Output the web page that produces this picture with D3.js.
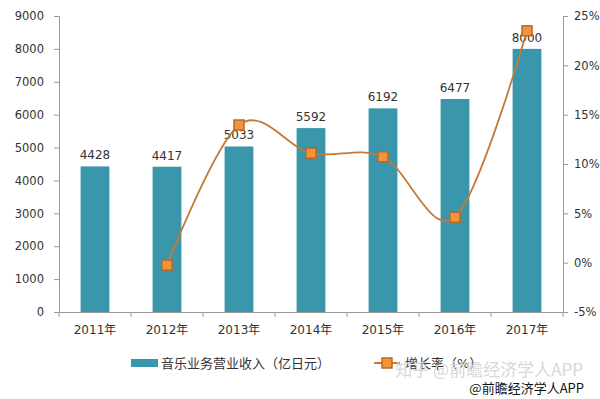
<!DOCTYPE html>
<html>
<head>
<meta charset="utf-8">
<script src="https://cdn.jsdelivr.net/npm/d3@7"></script>
<style>
  body { margin: 0; background: #fff; }
  svg { display: block; font-family: "DejaVu Sans", "Noto Sans CJK SC", sans-serif; }
</style>
</head>
<body>
<div id="chart"></div>
<script>
"use strict";

// data
let years = ["2011年", "2012年", "2013年", "2014年", "2015年", "2016年", "2017年"];
let revenue = [4428, 4417, 5033, 5592, 6192, 6477, 8000];
let growth = [null, -0.25, 13.95, 11.1, 10.73, 4.6, 23.5];
let leftTicks = [0, 1000, 2000, 3000, 4000, 5000, 6000, 7000, 8000, 9000];
let rightTicks = [-5, 0, 5, 10, 15, 20, 25];

let svgWidth = 600;
let svgHeight = 399;

let svg = d3.select("#chart")
    .append("svg")
    .attr("width", svgWidth)
    .attr("height", svgHeight);

let plotLeft = 59, plotRight = 563, plotTop = 16, plotBottom = 312;

// scales
let xScale = d3.scaleBand()
    .domain(years)
    .range([plotLeft, plotRight])
    .paddingInner(0.6)
    .paddingOuter(0.3);

let yLeft = d3.scaleLinear().domain([0, 9000]).range([plotBottom, plotTop]);
let yRight = d3.scaleLinear().domain([-5, 25]).range([plotBottom, plotTop]);

// bars
svg.selectAll(".bar")
    .data(years)
    .enter()
    .append("rect")
    .attr("x", d => xScale(d))
    .attr("y", (d, i) => yLeft(revenue[i]))
    .attr("width", xScale.bandwidth())
    .attr("height", (d, i) => plotBottom - yLeft(revenue[i]))
    .attr("fill", "#3a96ab");

// bar labels
svg.selectAll(".lbl")
    .data(years)
    .enter()
    .append("text")
    .attr("x", d => xScale(d) + xScale.bandwidth() / 2)
    .attr("y", (d, i) => yLeft(revenue[i]) - 7)
    .attr("text-anchor", "middle")
    .attr("font-size", "12px")
    .attr("fill", "#333")
    .text((d, i) => revenue[i]);

// axes
let axisColor = "#999";

let gLeft = svg.append("g")
    .attr("transform", "translate(" + plotLeft + ",0)")
    .call(d3.axisLeft(yLeft).tickValues(leftTicks).tickSize(5).tickPadding(10)
        .tickFormat(d3.format("d")));

let gRight = svg.append("g")
    .attr("transform", "translate(" + plotRight + ",0)")
    .call(d3.axisRight(yRight).tickValues(rightTicks).tickSize(5).tickPadding(6)
        .tickFormat(d => d + "%"));

let gBottom = svg.append("g")
    .attr("transform", "translate(0," + plotBottom + ")")
    .call(d3.axisBottom(xScale).tickSize(0).tickPadding(13));

// category boundary ticks on the x axis
let step = xScale.step();
let bounds = d3.range(years.length + 1).map(i => plotLeft + i * step);
svg.selectAll(".xtick")
    .data(bounds)
    .enter()
    .append("line")
    .attr("x1", d => d)
    .attr("x2", d => d)
    .attr("y1", plotBottom)
    .attr("y2", plotBottom + 5)
    .attr("stroke", axisColor);

[gLeft, gRight, gBottom].forEach(function (g) {
    g.select(".domain").attr("stroke", axisColor);
    g.selectAll(".tick line").attr("stroke", axisColor);
    g.selectAll("text")
        .attr("font-size", "11.5px")
        .attr("fill", "#333")
        .attr("font-family", "DejaVu Sans, Noto Sans CJK SC, sans-serif");
});
gBottom.selectAll("text").attr("font-size", "12px");

// growth line
let linePoints = years.map((d, i) => ({ x: xScale(d) + xScale.bandwidth() / 2, v: growth[i] }))
    .filter(p => p.v !== null);

let line = d3.line()
    .x(p => p.x)
    .y(p => yRight(p.v))
    .curve(d3.curveCatmullRom.alpha(0));

svg.append("path")
    .datum(linePoints)
    .attr("d", line)
    .attr("fill", "none")
    .attr("stroke", "#c27a34")
    .attr("stroke-width", 1.8);

svg.selectAll(".pt")
    .data(linePoints)
    .enter()
    .append("rect")
    .attr("x", p => p.x - 5)
    .attr("y", p => yRight(p.v) - 5)
    .attr("width", 10)
    .attr("height", 10)
    .attr("fill", "#f4943a")
    .attr("stroke", "#b8692a")
    .attr("stroke-width", 1.5);

// legend
let legendY = 363;

svg.append("rect")
    .attr("x", 131)
    .attr("y", legendY - 4)
    .attr("width", 27)
    .attr("height", 8)
    .attr("fill", "#3a96ab");

svg.append("text")
    .attr("x", 161)
    .attr("y", legendY + 5)
    .attr("font-size", "13px")
    .attr("fill", "#333")
    .text("音乐业务营业收入（亿日元）");

svg.append("line")
    .attr("x1", 374)
    .attr("x2", 400)
    .attr("y1", legendY)
    .attr("y2", legendY)
    .attr("stroke", "#c27a34")
    .attr("stroke-width", 2);

svg.append("rect")
    .attr("x", 382)
    .attr("y", legendY - 5)
    .attr("width", 10)
    .attr("height", 10)
    .attr("fill", "#f4943a")
    .attr("stroke", "#b8692a")
    .attr("stroke-width", 1.5);

svg.append("text")
    .attr("x", 405)
    .attr("y", legendY + 5)
    .attr("font-size", "13px")
    .attr("fill", "#333")
    .text("增长率（%）");

// source watermark
svg.append("text")
    .attr("x", 583)
    .attr("y", 376)
    .attr("text-anchor", "end")
    .attr("font-size", "17px")
    .attr("font-family", "Noto Sans CJK SC, sans-serif")
    .attr("fill", "#d8d8d8")
    .text("知乎 @前瞻经济学人APP");

svg.append("text")
    .attr("x", 584)
    .attr("y", 393)
    .attr("text-anchor", "end")
    .attr("font-size", "13px")
    .attr("font-family", "Noto Sans CJK SC, sans-serif")
    .attr("fill", "#111")
    .text("@前瞻经济学人APP");
</script>
</body>
</html>
